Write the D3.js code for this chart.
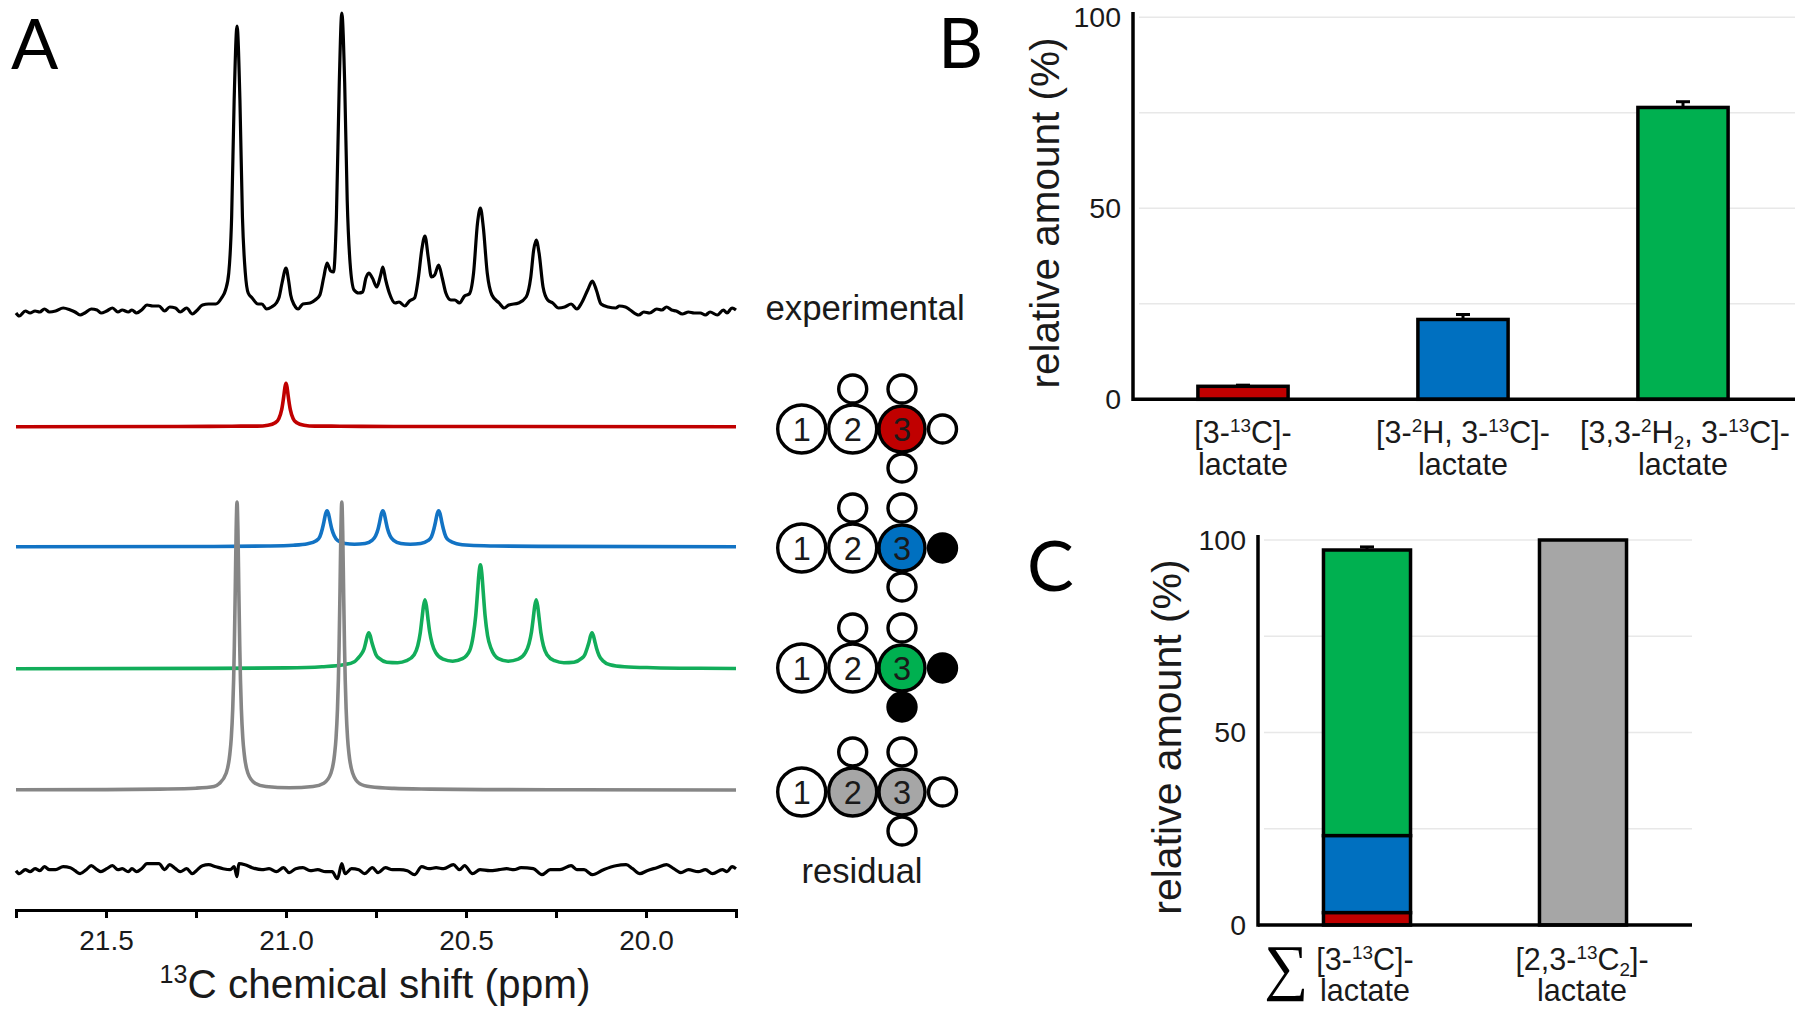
<!DOCTYPE html>
<html>
<head>
<meta charset="utf-8">
<script src="https://cdn.jsdelivr.net/npm/d3@7"></script>
<style>
  html, body { margin: 0; padding: 0; background: #fff; }
  text { font-family: "Liberation Sans", Arial, sans-serif; fill: #1a1a1a; }
</style>
</head>
<body>
<svg id="chart" width="1800" height="1010"></svg>
<script>
// Spectra: [ppm, intensity]
const experimental = [[21.750,-3],[21.741,-6],[21.724,-1],[21.711,-3],[21.697,-1],[21.684,-2],[21.671,1],[21.657,-2],[21.640,-1],[21.619,2],[21.599,0],[21.586,-2],[21.572,-5],[21.559,-3],[21.541,1],[21.525,0],[21.514,-3],[21.498,-1],[21.482,2],[21.467,-2],[21.455,0],[21.438,-2],[21.428,0],[21.415,-3],[21.401,0],[21.386,5],[21.370,4],[21.353,4],[21.337,-1],[21.323,3],[21.307,2],[21.294,-2],[21.276,2],[21.260,-4],[21.249,-1],[21.232,5],[21.215,6],[21.195,6],[21.179,12],[21.168,20],[21.159,37],[21.151,93],[21.144,210],[21.136,284],[21.128,210],[21.121,93],[21.113,37],[21.105,17],[21.094,12],[21.078,6],[21.067,6],[21.054,1],[21.040,3],[21.027,7],[21.019,13],[21.011,27],[21.000,42],[20.993,30],[20.987,15],[20.977,5],[20.966,1],[20.953,6],[20.933,7],[20.919,10],[20.906,15],[20.895,33],[20.886,47],[20.876,39],[20.868,38],[20.860,93],[20.852,227],[20.845,297],[20.837,227],[20.830,110],[20.822,47],[20.811,20],[20.798,17],[20.787,18],[20.778,32],[20.770,37],[20.760,32],[20.748,23],[20.737,35],[20.731,43],[20.723,30],[20.713,17],[20.697,7],[20.686,8],[20.670,4],[20.657,9],[20.643,12],[20.632,33],[20.623,60],[20.614,74],[20.605,53],[20.596,33],[20.587,35],[20.576,45],[20.566,32],[20.556,17],[20.542,10],[20.531,10],[20.518,7],[20.504,14],[20.491,16],[20.479,37],[20.468,87],[20.460,102],[20.452,83],[20.441,37],[20.428,15],[20.408,7],[20.394,2],[20.381,5],[20.354,7],[20.333,13],[20.320,33],[20.312,60],[20.305,70],[20.297,57],[20.286,23],[20.273,10],[20.259,7],[20.243,2],[20.226,3],[20.208,6],[20.192,1],[20.179,7],[20.162,20],[20.149,29],[20.138,20],[20.125,6],[20.105,3],[20.084,2],[20.074,4],[20.057,3],[20.044,0],[20.020,-5],[20.006,-2],[19.990,-3],[19.970,1],[19.956,0],[19.943,3],[19.929,0],[19.916,-1],[19.899,-4],[19.882,-2],[19.866,-3],[19.849,-3],[19.835,-5],[19.822,-2],[19.802,-5],[19.785,0],[19.775,-3],[19.761,2],[19.750,0]];

const redTrace = [[21.75,0],[21.3,.2],[21.15,.5],[21.08,.6],[21.05,1.5],[21.03,4],[21.02,8],[21.012,17],[21.006,31],[21.003,39.5],[21.0,43.5],[20.997,39.5],[20.994,31],[20.988,17],[20.98,8],[20.97,4],[20.95,1.5],[20.92,.6],[20.85,.5],[20.7,.2],[19.75,0]];

const blueTrace = [[21.75,0],[21.2,.2],[21.05,.7],[20.98,1.5],[20.94,3],[20.916,6],[20.906,10],[20.899,18],[20.894,26],[20.89,33],[20.886,36],[20.882,33],[20.878,26],[20.873,18],[20.866,11],[20.856,6],[20.836,3.2],[20.81,2.4],[20.78,3.2],[20.761,6.3],[20.751,11],[20.744,18],[20.739,26],[20.735,33],[20.731,36],[20.727,33],[20.723,26],[20.718,18],[20.711,11],[20.701,6.3],[20.681,3.2],[20.655,2.4],[20.626,3.2],[20.606,6],[20.596,10],[20.589,18],[20.584,26],[20.58,33],[20.576,36],[20.572,33],[20.568,26],[20.563,18],[20.556,10],[20.546,6],[20.526,3],[20.49,1.4],[20.42,.7],[20.3,.3],[19.75,0]];

const greenTrace = [[21.75,0],[21.2,.3],[21.0,.8],[20.9,2],[20.84,4],[20.81,7],[20.8,10.5],[20.79,15],[20.783,20],[20.778,27],[20.774,33],[20.77,36],[20.766,33],[20.762,27],[20.757,21],[20.75,14],[20.74,10],[20.72,6.5],[20.69,6],[20.665,8],[20.644,14],[20.634,23],[20.627,36],[20.622,51],[20.618,63],[20.614,69],[20.61,63],[20.606,51],[20.601,37],[20.594,25],[20.584,16],[20.564,9.5],[20.537,7.5],[20.51,10],[20.49,18],[20.48,33],[20.473,53],[20.468,76],[20.464,95],[20.46,104],[20.456,95],[20.452,76],[20.447,53],[20.44,33],[20.43,20],[20.41,10],[20.383,7.5],[20.355,9.5],[20.335,16],[20.325,25],[20.318,37],[20.313,51],[20.309,63],[20.305,69],[20.301,63],[20.297,51],[20.292,36],[20.285,23],[20.275,14],[20.254,8],[20.228,6],[20.2,6.5],[20.18,10],[20.17,14],[20.163,21],[20.158,27],[20.154,33],[20.15,36],[20.146,33],[20.142,27],[20.137,20],[20.13,13],[20.12,8],[20.1,4],[20.06,2],[19.98,1],[19.85,.4],[19.75,.2]];

const grayTrace = [[21.75,.2],[21.5,.4],[21.35,.9],[21.25,1.8],[21.2,3.5],[21.186,6.3],[21.166,17],[21.156,36],[21.152,52],[21.148,81],[21.1455,110],[21.1435,144],[21.141,199],[21.1385,259],[21.136,288],[21.1335,259],[21.131,199],[21.1285,144],[21.1265,110],[21.124,81],[21.12,52],[21.116,36],[21.106,17],[21.086,6.8],[21.056,3.5],[20.99,2.2],[20.925,3.5],[20.895,6.8],[20.875,17],[20.865,36],[20.861,52],[20.857,81],[20.8545,110],[20.8525,144],[20.85,199],[20.8475,259],[20.845,288],[20.8425,259],[20.84,199],[20.8375,144],[20.8355,110],[20.833,81],[20.829,52],[20.825,36],[20.815,17],[20.795,6.3],[20.765,3.2],[20.7,1.6],[20.6,.9],[20.45,.4],[20.2,.2],[19.75,0]];

const residualTrace = [[21.750,0],[21.741,-3],[21.724,1],[21.711,-1],[21.697,2],[21.684,0],[21.671,4],[21.657,1],[21.640,1],[21.619,4],[21.599,3],[21.586,0],[21.572,-3],[21.555,1],[21.541,5],[21.525,1],[21.514,-1],[21.498,2],[21.482,5],[21.467,1],[21.455,2],[21.438,-1],[21.428,2],[21.415,-1],[21.401,2],[21.386,7],[21.370,7],[21.353,7],[21.337,1],[21.323,6],[21.307,2],[21.294,-1],[21.276,2],[21.260,-3],[21.249,0],[21.232,5],[21.215,6],[21.195,4],[21.175,2],[21.155,1],[21.144,4],[21.136,-6],[21.131,7],[21.114,6],[21.094,3],[21.067,1],[21.047,2],[21.027,-1],[21.007,3],[20.991,-2],[20.973,2],[20.953,3],[20.933,0],[20.912,1],[20.890,-1],[20.872,-1],[20.857,-8],[20.845,7],[20.836,-3],[20.818,2],[20.798,1],[20.782,-3],[20.760,3],[20.744,-2],[20.724,3],[20.704,1],[20.684,1],[20.663,0],[20.643,-4],[20.623,4],[20.603,2],[20.583,3],[20.562,2],[20.535,6],[20.518,1],[20.504,5],[20.482,-3],[20.461,1],[20.434,0],[20.408,1],[20.387,2],[20.367,1],[20.347,3],[20.313,2],[20.289,-4],[20.266,1],[20.239,1],[20.208,5],[20.192,1],[20.172,1],[20.149,-4],[20.118,1],[20.084,5],[20.055,6],[20.037,2],[20.017,-3],[19.997,0],[19.970,3],[19.943,6],[19.923,2],[19.903,-2],[19.882,1],[19.855,-1],[19.835,1],[19.815,-3],[19.788,1],[19.775,-1],[19.761,4],[19.750,2]];

// Axis ticks of panel A
const ppmTicks = [21.75, 21.5, 21.25, 21.0, 20.75, 20.5, 20.25, 20.0, 19.75];
const ppmLabels = [21.5, 21.0, 20.5, 20.0];

// Panel B
const bCategories = ['3-13C', '3-2H', '3,3-2H2'];
const bValues = [3.4, 20.9, 76.4];
const bErrors = [0.3, 1.3, 1.5];

// Panel C
const cCategories = ['sum', '2,3-13C2'];
const cRed = [3.2, 0];
const cBlue = [20.0, 0];
const cGreen = [74.2, 0];
const cGray = [0, 100];
const cErrors = [0.8, 0];

const percentTicks = [0, 50, 100];
const gridTicks = [25, 50, 75, 100];

const RED = '#c00000', BLUE = '#0070c0', GREEN = '#00b050', GRAY = '#a6a6a6';

const svg = d3.select('#chart');

// Writes a text from parts, where a part is a plain string or [string, 'sup'|'sub']
function richText(sel, parts, size) {
  const small = size * 0.62;
  let pending = 0;
  parts.forEach(p => {
    const isStr = typeof p === 'string';
    const shift = isStr ? 0 : (p[1] === 'sup' ? -size * 0.36 : size * 0.2);
    sel.append('tspan')
      .attr('dy', shift - pending)
      .attr('font-size', isStr ? size : small)
      .text(isStr ? p : p[0]);
    pending = shift;
  });
}

function label(x, y, parts, size, anchor) {
  const t = svg.append('text')
    .attr('x', x).attr('y', y)
    .attr('text-anchor', anchor || 'middle')
    .attr('font-size', size);
  richText(t, parts, size);
  return t;
}

/* ---------- Panel A ---------- */
const x = d3.scaleLinear().domain([21.75, 19.75]).range([16, 736]);
const h = d3.scaleLinear().domain([0, 300]).range([0, -300]);
const line = d3.line()
  .x(d => x(d[0]))
  .y(d => h(d[1]))
  .curve(d3.curveMonotoneX);

const traces = [
  { data: experimental, base: 310, color: '#000', w: 3.2 },
  { data: redTrace, base: 426.7, color: RED, w: 3.6 },
  { data: blueTrace, base: 546.7, color: '#1273c4', w: 3.6 },
  { data: greenTrace, base: 668.7, color: '#12ad5a', w: 3.6 },
  { data: grayTrace, base: 790, color: '#868686', w: 3.6 },
  { data: residualTrace, base: 870.7, color: '#000', w: 3.2 },
];
svg.selectAll('path.trace')
  .data(traces)
  .join('path')
  .attr('class', 'trace')
  .attr('transform', d => `translate(0,${d.base})`)
  .attr('fill', 'none')
  .attr('stroke', d => d.color)
  .attr('stroke-width', d => d.w)
  .attr('stroke-linejoin', 'round')
  .attr('d', d => line(d.data));

const ppmAxis = d3.axisBottom(x)
  .tickValues(ppmTicks)
  .tickSizeOuter(0)
  .tickSize(8)
  .tickPadding(12)
  .tickFormat(v => ppmLabels.includes(v) ? v.toFixed(1) : '');
const gA = svg.append('g').attr('transform', 'translate(0,910)').call(ppmAxis);
gA.selectAll('path, line').attr('stroke', '#000').attr('stroke-width', 3);
gA.selectAll('text').attr('font-size', 28).attr('font-family', null);
label(375, 998, [['13', 'sup'], 'C chemical shift (ppm)'], 40.5);

label(865, 320, ['experimental'], 34.8);
label(862, 883, ['residual'], 34.6);

// Isotopomer glyphs: carbon backbone with the hydrogens on it
const glyphs = [
  { y: 429, c2: '#fff', c3: RED, hRight: '#fff', hBelow: '#fff' },
  { y: 548, c2: '#fff', c3: BLUE, hRight: '#000', hBelow: '#fff' },
  { y: 668, c2: '#fff', c3: GREEN, hRight: '#000', hBelow: '#000' },
  { y: 792, c2: GRAY, c3: GRAY, hRight: '#fff', hBelow: '#fff' },
];
glyphs.forEach(g => {
  const atom = (cx, cy, r, fill) => svg.append('circle')
    .attr('cx', cx).attr('cy', cy).attr('r', r)
    .attr('fill', fill).attr('stroke', '#000').attr('stroke-width', 3.4);
  atom(852.7, g.y - 40, 14, '#fff');
  atom(902, g.y - 40, 14, '#fff');
  atom(942.5, g.y, 14, g.hRight);
  atom(902, g.y + 39, 14, g.hBelow);
  atom(801.7, g.y, 24, '#fff');
  atom(852.7, g.y, 24, g.c2);
  atom(902, g.y, 23, g.c3);
  [[801.7, '1'], [852.7, '2'], [902, '3']].forEach(([cx, s]) => {
    svg.append('text')
      .attr('x', cx).attr('y', g.y + 12)
      .attr('text-anchor', 'middle')
      .attr('font-size', 32.5)
      .text(s);
  });
});

/* ---------- Bar panel frame shared by B and C ---------- */
function barFrame(y, x0, gridEnd) {
  svg.selectAll(null)
    .data(gridTicks)
    .join('line')
    .attr('x1', x0 + 6).attr('x2', gridEnd)
    .attr('y1', d => y(d)).attr('y2', d => y(d))
    .attr('stroke', '#e8e8e8').attr('stroke-width', 1.6);
}

function drawAxes(y, x0, xEnd, top) {
  const axis = d3.axisLeft(y).tickValues(percentTicks).tickSize(0).tickPadding(12);
  const g = svg.append('g').attr('transform', `translate(${x0},0)`).call(axis);
  g.select('.domain').remove();
  g.selectAll('text').attr('font-size', 28.5).attr('font-family', null);
  svg.append('line')
    .attr('x1', x0).attr('x2', x0)
    .attr('y1', y(top)).attr('y2', y(0) + 1.75)
    .attr('stroke', '#000').attr('stroke-width', 3.5);
  svg.append('line')
    .attr('x1', x0).attr('x2', xEnd)
    .attr('y1', y(0)).attr('y2', y(0))
    .attr('stroke', '#000').attr('stroke-width', 3.5);
}

function errorBar(cx, y, from, err) {
  svg.append('line')
    .attr('x1', cx).attr('x2', cx)
    .attr('y1', y(from)).attr('y2', y(from + err))
    .attr('stroke', '#000').attr('stroke-width', 3);
  svg.append('line')
    .attr('x1', cx - 7).attr('x2', cx + 7)
    .attr('y1', y(from + err)).attr('y2', y(from + err))
    .attr('stroke', '#000').attr('stroke-width', 3);
}

/* ---------- Panel B ---------- */
const xB = d3.scaleBand().domain(bCategories).range([1133, 1793]).paddingInner(0.59).paddingOuter(0.295);
const yB = d3.scaleLinear().domain([0, 100]).range([399.3, 17.3]);
barFrame(yB, 1133, 1795);

bCategories.forEach((c, i) => errorBar(xB(c) + xB.bandwidth() / 2, yB, bValues[i], bErrors[i]));
svg.selectAll('rect.barB')
  .data(bCategories)
  .join('rect')
  .attr('class', 'barB')
  .attr('x', d => xB(d))
  .attr('width', xB.bandwidth())
  .attr('y', (d, i) => yB(bValues[i]))
  .attr('height', (d, i) => yB(0) - yB(bValues[i]))
  .attr('fill', (d, i) => [RED, BLUE, GREEN][i])
  .attr('stroke', '#000')
  .attr('stroke-width', 3.5);
drawAxes(yB, 1133, 1795, 101.4);

const bLabels = [
  ['[3-', ['13', 'sup'], 'C]-'],
  ['[3-', ['2', 'sup'], 'H, 3-', ['13', 'sup'], 'C]-'],
  ['[3,3-', ['2', 'sup'], 'H', ['2', 'sub'], ', 3-', ['13', 'sup'], 'C]-'],
];
bCategories.forEach((c, i) => {
  const cx = xB(c) + xB.bandwidth() / 2;
  label(cx + [0, 0, 2][i], 443, bLabels[i], 30.5);
  label(cx, 475, ['lactate'], 30.5);
});
svg.append('text')
  .attr('transform', 'translate(1059,213) rotate(-90)')
  .attr('text-anchor', 'middle')
  .attr('font-size', 40.5)
  .text('relative amount (%)');

/* ---------- Panel C ---------- */
const xC = d3.scaleBand().domain(cCategories).range([1259, 1691]).paddingInner(0.597).paddingOuter(0.2985);
const yC = d3.scaleLinear().domain([0, 100]).range([925, 540]);
barFrame(yC, 1258, 1692);

const stack = d3.stack().keys(['red', 'blue', 'green', 'gray'])(
  cCategories.map((c, i) => ({ cat: c, red: cRed[i], blue: cBlue[i], green: cGreen[i], gray: cGray[i] }))
);
const stackColor = { red: RED, blue: BLUE, green: GREEN, gray: GRAY };

const top0 = cRed[0] + cBlue[0] + cGreen[0];
errorBar(xC(cCategories[0]) + xC.bandwidth() / 2, yC, top0, cErrors[0]);
stack.slice().reverse().forEach(layer => {
  svg.selectAll(null)
    .data(layer.filter(d => d[1] > d[0]))
    .join('rect')
    .attr('x', d => xC(d.data.cat))
    .attr('width', xC.bandwidth())
    .attr('y', d => yC(d[1]))
    .attr('height', d => yC(d[0]) - yC(d[1]))
    .attr('fill', stackColor[layer.key])
    .attr('stroke', '#000')
    .attr('stroke-width', 3.5);
});
drawAxes(yC, 1258, 1692, 101.3);

label(1365, 970, ['[3-', ['13', 'sup'], 'C]-'], 30.5);
label(1365, 1001, ['lactate'], 30.5);
label(1582, 970, ['[2,3-', ['13', 'sup'], 'C', ['2', 'sub'], ']-'], 30.5);
label(1582, 1001, ['lactate'], 30.5);
svg.append('text')
  .attr('x', 1286).attr('y', 988)
  .attr('text-anchor', 'middle')
  .attr('font-size', 62)
  .style('font-family', '"Liberation Serif", serif')
  .style('fill', '#000')
  .text('∑');
svg.append('text')
  .attr('transform', 'translate(1181,737) rotate(-90)')
  .attr('text-anchor', 'middle')
  .attr('font-size', 41)
  .text('relative amount (%)');

/* ---------- Panel letters ---------- */
[['A', 11, 69], ['B', 938, 68], ['C', 1027, 591]].forEach(([s, lx, ly]) => {
  svg.append('text')
    .attr('x', lx).attr('y', ly)
    .attr('font-size', 70)
    .style('font-family', 'Lato, sans-serif')
    .style('fill', '#000')
    .text(s);
});
</script>
</body>
</html>
